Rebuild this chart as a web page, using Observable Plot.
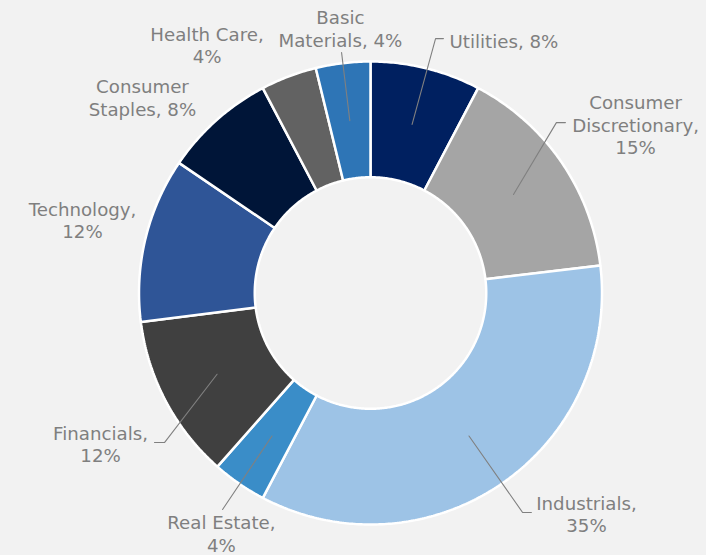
<!DOCTYPE html>
<html>
<head>
<meta charset="utf-8">
<script src="https://cdn.jsdelivr.net/npm/d3@7"></script>
<script src="https://cdn.jsdelivr.net/npm/@observablehq/plot@0.6"></script>
<style>
  html, body { margin: 0; padding: 0; background: #f2f2f2; }
  #chart svg { display: block; }
</style>
</head>
<body>
<div id="chart"></div>
<script>
// ---- data ----
const sectors = ["Utilities", "Consumer Discretionary", "Industrials", "Real Estate",
  "Financials", "Technology", "Consumer Staples", "Health Care", "Basic Materials"];
const weights = [7.7, 15.4, 34.6, 3.8, 11.5, 11.5, 7.8, 3.9, 3.8];

// ---- styles ----
const palette = ["#002060", "#a5a5a5", "#9dc3e6", "#3a8dc8", "#404040",
  "#2f5597", "#001538", "#626262", "#2e75b6"];

// ---- layout (units of outer radius, centre at 0,0) ----
const innerR = 0.5, outerR = 1.0;
const labelMode = ["one", "three", "two", "two", "two", "two", "word", "two", "word"];
const labelPos = [[0.341, 1.091], [1.145, 0.728], [0.933, -0.955], [-0.644, -1.038],
  [-1.166, -0.652], [-1.244, 0.315], [-0.985, 0.845], [-0.706, 1.071], [-0.130, 1.143]];
const leaderEnds = [
  [[0.281, 1.099], [0.315, 1.099]],
  [[0.803, 0.736], [0.842, 0.736]],
  [[0.657, -0.948], [0.695, -0.948]],
  [[-0.639, -0.935]],
  [[-0.890, -0.646], [-0.933, -0.646]],
  null, null, null,
  [[-0.125, 1.039]]
];

// ---- geometry from values ----
const total = d3.sum(weights);
let acc = 0;
const slices = sectors.map((name, i) => {
  const a0 = acc / total * 2 * Math.PI;
  acc += weights[i];
  const a1 = acc / total * 2 * Math.PI;
  return {name, value: weights[i], a0, a1, i};
});
const pt = (r, a) => [r * Math.sin(a), r * Math.cos(a)];

const polys = [];
for (const s of slices) {
  const n = Math.max(4, Math.ceil((s.a1 - s.a0) / 0.01));
  for (let k = 0; k <= n; k++) {
    const a = s.a0 + (s.a1 - s.a0) * k / n;
    const [x, y] = pt(outerR, a);
    polys.push({name: s.name, x, y});
  }
  for (let k = n; k >= 0; k--) {
    const a = s.a0 + (s.a1 - s.a0) * k / n;
    const [x, y] = pt(innerR, a);
    polys.push({name: s.name, x, y});
  }
}

const leaders = [];
slices.forEach((s, i) => {
  if (!leaderEnds[i]) return;
  const [x0, y0] = pt((innerR + outerR) / 2, (s.a0 + s.a1) / 2);
  leaders.push({name: s.name, x: x0, y: y0});
  for (const [x, y] of leaderEnds[i]) leaders.push({name: s.name, x, y});
});

function fmt(name, pct, mode) {
  const sp = name.indexOf(" ");
  if (mode === "one") return `${name}, ${pct}%`;
  if (mode === "two") return `${name},\n${pct}%`;
  if (mode === "word") return `${name.slice(0, sp)}\n${name.slice(sp + 1)}, ${pct}%`;
  return `${name.slice(0, sp)}\n${name.slice(sp + 1)},\n${pct}%`;
}
const labels = slices.map((s, i) => ({
  text: fmt(s.name, Math.round(s.value), labelMode[i]),
  x: labelPos[i][0], y: labelPos[i][1], mode: labelMode[i]
}));

// ---- chart ----
const W = 706, H = 555;
const cx = 370, cy = 292.5, R = 231.5;
const textStyle = {
  fill: "#7f7f7f", fontSize: 18.2, fontFamily: "DejaVu Sans, Verdana, sans-serif",
  lineAnchor: "middle", lineHeight: 1.22
};

const chart = Plot.plot({
  width: W, height: H,
  margin: 0,
  style: {background: "#f2f2f2", overflow: "visible"},
  x: {domain: [-cx / R, (W - cx) / R], axis: null},
  y: {domain: [-(H - cy) / R, cy / R], axis: null},
  color: {domain: sectors, range: palette},
  marks: [
    Plot.line(polys, {x: "x", y: "y", z: "name", fill: "name", stroke: "white",
      strokeWidth: 2.5, curve: "linear-closed", strokeLinejoin: "miter"}),
    Plot.line(leaders, {x: "x", y: "y", z: "name", stroke: "#808080", strokeWidth: 1.1}),
    Plot.text(labels.filter(d => d.mode !== "one"), {x: "x", y: "y", text: "text",
      textAnchor: "middle", ...textStyle}),
    Plot.text(labels.filter(d => d.mode === "one"), {x: "x", y: "y", text: "text",
      textAnchor: "start", ...textStyle})
  ]
});
document.getElementById("chart").append(chart);
</script>
</body>
</html>
